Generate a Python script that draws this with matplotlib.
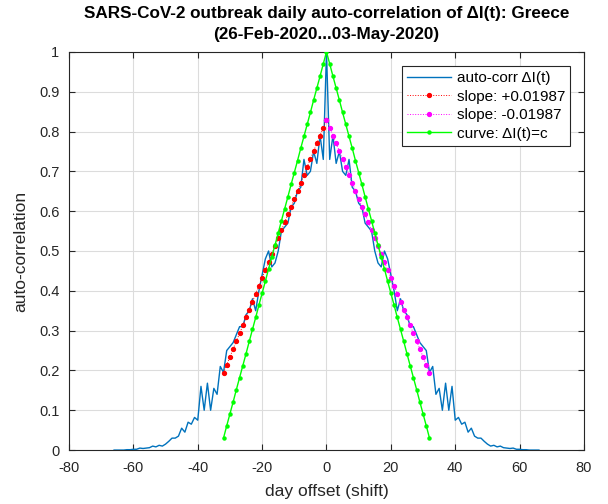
import numpy as np
import matplotlib.pyplot as plt

plt.rcParams['font.family'] = ['Liberation Sans', 'DejaVu Sans']
plt.rcParams['axes.unicode_minus'] = False

# auto-correlation of daily new cases, lags 0..66 (curve is symmetric)
acf_pos = [1.000, 0.730, 0.790, 0.720, 0.750, 0.700, 0.690, 0.730, 0.660, 0.650,
           0.620, 0.610, 0.570, 0.560, 0.550, 0.500, 0.470, 0.460, 0.500, 0.480,
           0.440, 0.400, 0.350, 0.380, 0.350, 0.340, 0.310, 0.310, 0.290, 0.270,
           0.260, 0.250, 0.195, 0.210, 0.140, 0.155, 0.100, 0.168, 0.100, 0.160,
           0.075, 0.082, 0.065, 0.070, 0.045, 0.055, 0.035, 0.030, 0.030, 0.022,
           0.015, 0.010, 0.012, 0.008, 0.010, 0.006, 0.005, 0.004, 0.005, 0.002,
           0.002, 0.001, 0.001, 0.000, 0.000, 0.000, 0.000]

# fitted line, lags -32..0
slope_left = [0.194, 0.214, 0.234, 0.254, 0.274, 0.293, 0.313, 0.333, 0.353, 0.373,
              0.393, 0.413, 0.433, 0.452, 0.472, 0.492, 0.512, 0.532, 0.552, 0.572,
              0.592, 0.611, 0.631, 0.651, 0.671, 0.691, 0.711, 0.731, 0.751, 0.770,
              0.790, 0.810, 0.830]

# constant-signal curve, lags 0..32
const_pos = [1.000, 0.970, 0.939, 0.909, 0.879, 0.848, 0.818, 0.788, 0.758, 0.727,
             0.697, 0.667, 0.636, 0.606, 0.576, 0.545, 0.515, 0.485, 0.455, 0.424,
             0.394, 0.364, 0.333, 0.303, 0.273, 0.242, 0.212, 0.182, 0.152, 0.121,
             0.091, 0.061, 0.030]

acf = acf_pos[:0:-1] + acf_pos
lags = np.arange(-(len(acf_pos) - 1), len(acf_pos))
lag_l = np.arange(-(len(slope_left) - 1), 1)
lag_r = np.arange(0, len(slope_left))
slope_right = slope_left[::-1]
const = const_pos[:0:-1] + const_pos
lag_c = np.arange(-(len(const_pos) - 1), len(const_pos))

fig = plt.figure(figsize=(6.08, 5.04), dpi=100)
ax = fig.add_axes([0.1135, 0.107, 0.847, 0.79])

ax.plot(lags, acf, color='#0072BD', lw=1.0, label='auto-corr ΔI(t)', zorder=3)
ax.plot(lag_l, slope_left, color='red', ls=':', lw=0.7, marker='o', ms=2.8,
        label='slope: +0.01987', zorder=4)
ax.plot(lag_r, slope_right, color='magenta', ls=':', lw=0.7, marker='o', ms=2.8,
        label='slope: -0.01987', zorder=4)
ax.plot(lag_c, const, color='#00FF00', lw=1.0, marker='o', ms=2.2,
        label='curve: ΔI(t)=c', zorder=5)

ax.set_xlim(-80, 80)
ax.set_ylim(0, 1)
ax.set_xticks(np.arange(-80, 81, 20))
ax.set_yticks(np.arange(0, 1.01, 0.1))
ax.set_yticklabels(['0', '0.1', '0.2', '0.3', '0.4', '0.5', '0.6', '0.7', '0.8', '0.9', '1'])
ax.grid(True, color='#dcdcdc', lw=0.8)
ax.set_axisbelow(True)
ax.tick_params(direction='in', top=True, right=True, labelsize=10.5, colors='#262626',
               length=4)
ax.tick_params(axis='x', pad=8)
ax.tick_params(axis='y', pad=7)
for s in ax.spines.values():
    s.set_color('#262626')
    s.set_linewidth(0.8)

ax.set_xlabel('day offset (shift)', fontsize=12.5, color='#262626', labelpad=6)
ax.set_ylabel('auto-correlation', fontsize=12.5, color='#262626', labelpad=8)
ax.set_title('SARS-CoV-2 outbreak daily auto-correlation of ΔI(t): Greece\n(26-Feb-2020...03-May-2020)',
             fontsize=12.3, fontweight='bold', color='black', linespacing=1.5, pad=9)

leg = ax.legend(loc='upper right', fontsize=11, fancybox=False, framealpha=1,
                edgecolor='#262626', handlelength=2.9, borderpad=0.35,
                labelspacing=0.3, handletextpad=0.35, borderaxespad=0.9)
leg.get_frame().set_linewidth(0.8)

fig.savefig('out.png', dpi=100)
